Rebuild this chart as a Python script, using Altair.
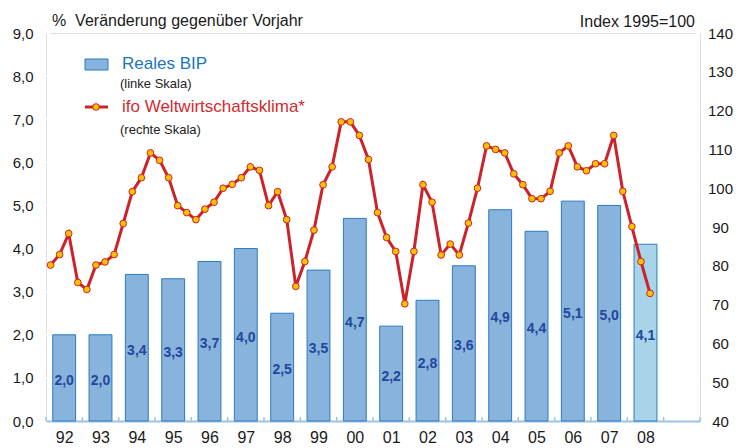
import altair as alt
import pandas as pd

# ---------------- data ----------------
years = list(range(1992, 2009))
gdp = [2.0, 2.0, 3.4, 3.3, 3.7, 4.0, 2.5, 3.5, 4.7, 2.2, 2.8, 3.6, 4.9, 4.4, 5.1, 5.0, 4.1]
gdp_kind = ["Ist"] * 16 + ["Prognose"]

# ifo Weltwirtschaftsklima, quarterly from 1992 Q1 to 2008 Q3 (Index 1995=100)
ifo = [80.2, 82.9, 88.3, 75.7, 73.9, 80.2, 81.0, 82.9, 90.9, 99.1,
       102.7, 109.1, 107.2, 102.7, 95.5, 93.7, 91.9, 94.6, 96.4, 100.0,
       101.0, 102.7, 105.5, 104.6, 95.5, 99.1, 91.9, 74.7, 81.1, 89.2,
       100.9, 105.5, 117.1, 117.1, 113.6, 107.4, 93.7, 87.3, 83.7, 70.2,
       83.7, 100.9, 96.4, 82.8, 85.6, 82.8, 91.0, 100.0, 110.9, 110.0,
       109.1, 103.7, 100.9, 97.3, 97.3, 99.2, 109.1, 110.9, 105.5, 104.5,
       106.3, 106.3, 113.6, 99.2, 90.1, 81.1, 72.9]

left_ticks = [0, 1, 2, 3, 4, 5, 6, 7, 8, 9]
right_ticks = [40, 50, 60, 70, 80, 90, 100, 110, 120, 130, 140]
slot_edges = list(range(1992, 2011))

bar_df = pd.DataFrame({"year": years, "gdp": gdp, "kind": gdp_kind})
ifo_df = pd.DataFrame({"q": list(range(len(ifo))), "ifo": ifo})
lt_df = pd.DataFrame({"v": left_ticks[1:]})
rt_df = pd.DataFrame({"v": right_ticks[1:]})
edge_df = pd.DataFrame({"e": slot_edges})
one = pd.DataFrame({"a": [0]})

# ---------------- layout / styles ----------------
W, H = 654, 388
FONT = "Liberation Sans, Arial, sans-serif"
BG = "#E1E9F5"
BAR_FILL = "#88B3DD"
BAR_FILL2 = "#A8D4EA"
BAR_STROKE = "#2B7BC0"
RED = "#CC2229"
YELLOW = "#FFC000"
AXIS_BLUE = "#9CC3E6"

xscale = alt.Scale(domain=[1992, 2010], nice=False, zero=False, padding=0)
xaxis = alt.Axis(values=[y + 0.5 for y in years],
                 labelExpr="substring(toString(floor(datum.value)), 2, 4)",
                 ticks=False, grid=False, title=None,
                 domainColor=AXIS_BLUE, domainWidth=2,
                 labelFontSize=16, labelPadding=8, labelColor="#1a1a1a",
                 labelFont=FONT)
lscale = alt.Scale(domain=[0, 9], nice=False, zero=True, padding=0)
laxis = alt.Axis(values=left_ticks, orient="left", ticks=False, domain=False,
                 grid=False, title=None,
                 labelExpr="replace(format(datum.value, '.1f'), '.', ',')",
                 labelFontSize=15, labelPadding=13, labelColor="#1a1a1a",
                 labelFont=FONT)
rscale = alt.Scale(domain=[40, 140], nice=False, zero=False, padding=0)
raxis = alt.Axis(values=right_ticks, orient="right", ticks=False, domain=False,
                 grid=False, title=None, labelAlign="center",
                 labelFontSize=15, labelPadding=20, labelColor="#1a1a1a",
                 labelFont=FONT)

# ---------------- left layer (bars) ----------------
bars = alt.Chart(bar_df).transform_calculate(
    x0="datum.year + 0.185", x1="datum.year + 0.815"
).mark_rect(stroke=BAR_STROKE, strokeWidth=1).encode(
    x=alt.X("x0:Q", scale=xscale, axis=xaxis),
    x2="x1:Q",
    y=alt.Y("gdp:Q", scale=lscale, axis=laxis),
    y2=alt.datum(0),
    fill=alt.Fill("kind:N", scale=alt.Scale(domain=["Ist", "Prognose"],
                                            range=[BAR_FILL, BAR_FILL2]),
                  legend=None),
)

bar_text = alt.Chart(bar_df).transform_calculate(
    xc="datum.year + 0.5", mid="datum.gdp / 2",
    lab="replace(format(datum.gdp, '.1f'), '.', ',')"
).mark_text(font=FONT, fontSize=14, fontWeight="bold", color="#23479A",
            baseline="middle", align="center", dy=3).encode(
    x=alt.X("xc:Q", scale=xscale, axis=xaxis),
    y=alt.Y("mid:Q", scale=lscale, axis=laxis),
    text="lab:N",
)

xticks = alt.Chart(edge_df).mark_rule(color=AXIS_BLUE, strokeWidth=1.5).encode(
    x=alt.X("e:Q", scale=xscale, axis=xaxis),
    y=alt.value(H), y2=alt.value(H - 4),
)

lticks = alt.Chart(lt_df).mark_rule(color="white", strokeWidth=2).encode(
    y=alt.Y("v:Q", scale=lscale, axis=laxis),
    x=alt.value(0), x2=alt.value(4),
)

# legend & titles
sw_bar = alt.Chart(one).mark_rect(fill=BAR_FILL, stroke=BAR_STROKE, strokeWidth=1).encode(
    x=alt.value(39), x2=alt.value(62), y=alt.value(26), y2=alt.value(37))
t_bip = alt.Chart(one).mark_text(text="Reales BIP", font=FONT, fontSize=17, color="#1C75BC",
                                 align="left", baseline="middle").encode(
    x=alt.value(76), y=alt.value(31))
t_bip2 = alt.Chart(one).mark_text(text="(linke Skala)", font=FONT, fontSize=13, color="#222222",
                                  align="left", baseline="middle").encode(
    x=alt.value(74), y=alt.value(51))
sw_line = alt.Chart(one).mark_rule(color=RED, strokeWidth=3).encode(
    x=alt.value(39), x2=alt.value(62), y=alt.value(74))
sw_pt = alt.Chart(one).mark_circle(fill=YELLOW, stroke=RED, strokeWidth=1, size=45, opacity=1).encode(
    x=alt.value(50), y=alt.value(74))
t_ifo = alt.Chart(one).mark_text(text="ifo Weltwirtschaftsklima*", font=FONT, fontSize=17, color="#D42A2F",
                                 align="left", baseline="middle").encode(
    x=alt.value(76), y=alt.value(74))
t_ifo2 = alt.Chart(one).mark_text(text="(rechte Skala)", font=FONT, fontSize=13, color="#222222",
                                  align="left", baseline="middle").encode(
    x=alt.value(74), y=alt.value(97))
t_left = alt.Chart(one).mark_text(text="%\u00a0\u00a0Veränderung gegenüber Vorjahr", font=FONT,
                                  fontSize=16, color="#1a1a1a", align="left", baseline="middle").encode(
    x=alt.value(6), y=alt.value(-12))
t_right = alt.Chart(one).mark_text(text="Index 1995=100", font=FONT, fontSize=16, color="#1a1a1a",
                                   align="right", baseline="middle").encode(
    x=alt.value(649), y=alt.value(-11))

left = alt.layer(bars, bar_text, xticks, lticks, sw_bar, t_bip, t_bip2,
                 sw_line, sw_pt, t_ifo, t_ifo2, t_left, t_right)

# ---------------- right layer (ifo line) ----------------
base_r = alt.Chart(ifo_df).transform_calculate(t="1992 + (datum.q + 0.5) / 4")
line = base_r.mark_line(color=RED, strokeWidth=3).encode(
    x=alt.X("t:Q", scale=xscale, axis=xaxis),
    y=alt.Y("ifo:Q", scale=rscale, axis=raxis),
)
pts = base_r.mark_circle(fill=YELLOW, stroke=RED, strokeWidth=1, size=45, opacity=1).encode(
    x=alt.X("t:Q", scale=xscale, axis=xaxis),
    y=alt.Y("ifo:Q", scale=rscale, axis=raxis),
)
rticks = alt.Chart(rt_df).mark_rule(color="white", strokeWidth=2).encode(
    y=alt.Y("v:Q", scale=rscale, axis=raxis),
    x=alt.value(W - 4), x2=alt.value(W),
)
right = alt.layer(line, pts, rticks)

chart = alt.layer(left, right).resolve_scale(y="independent").properties(
    width=W, height=H,
    autosize=alt.AutoSizeParams(type="none"),
    padding={"left": 38, "top": 25, "right": 33, "bottom": 27},
).configure_view(fill=BG, stroke=None).configure(background="white")

chart.save("out.html", embed_options={"renderer": "svg", "actions": False})
